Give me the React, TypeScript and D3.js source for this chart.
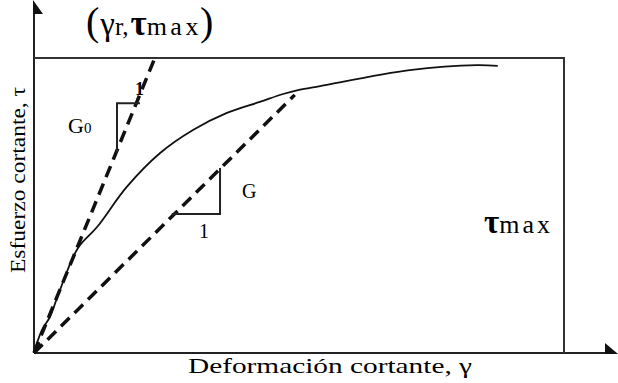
import React from 'react';
import * as d3 from 'd3';

// stress-strain curve (strain in arbitrary units, stress as tau/tau_max)
const strain = [0, 0.15, 0.3, 0.49, 0.83, 1.19, 1.75, 2.38, 3.0, 3.64, 4.26, 4.7, 5.0, 5.4, 7.09, 8.36, 8.75];
const stress = [0, 0.078, 0.122, 0.214, 0.356, 0.427, 0.563, 0.678, 0.756, 0.814, 0.851, 0.878, 0.892, 0.905, 0.959, 0.976, 0.973];

// initial tangent modulus G0 and secant modulus G
const g0Line = [[0, 0], [2.28, 1.0]];
const gLine = [[0, 0], [4.92, 0.875]];
const g0Tri = [[1.566, 0.678], [1.566, 0.847], [2.0, 0.847]];
const gTri = [[2.6, 0.471], [3.51, 0.471], [3.51, 0.627]];

const W = 618;
const H = 383;
const x0 = 34;
const y0 = 353;

const font = '"Liberation Serif", "Times New Roman", Times, serif';
const serif = { fontFamily: font };

const App = () => {
  const x = d3.scaleLinear().domain([0, 10]).range([x0, 564]);
  const y = d3.scaleLinear().domain([0, 1]).range([y0, 58]);

  const line = d3
    .line<number[]>()
    .x((d) => x(d[0]))
    .y((d) => y(d[1]));
  const curve = d3
    .line<number>()
    .x((d, i) => x(strain[i]))
    .y((d) => y(d))
    .curve(d3.curveCatmullRom.alpha(0.5));

  // little arrowhead at origin along the G0 line
  const dx = x(g0Line[1][0]) - x0;
  const dy = y(g0Line[1][1]) - y0;
  const len = Math.hypot(dx, dy);
  const ux = dx / len;
  const uy = dy / len;
  const tip = [x0 + 1, y0 - 1];
  const back = [tip[0] + ux * 10, tip[1] + uy * 10];
  const arrow = [
    tip,
    [back[0] - uy * 3, back[1] + ux * 3],
    [back[0] + uy * 3, back[1] - ux * 3],
  ];

  return (
    <svg
      width={W}
      height={H}
      style={{ position: 'absolute', left: 0, top: 0, background: '#fff' }}
    >
      {/* axes */}
      <line x1={x0} y1={y0} x2={x0} y2={12} stroke="#222" strokeWidth={2} />
      <polygon points={`${x0 - 1},0 ${x0 + 9},14 ${x0 - 1},14`} fill="#111" />
      <line x1={x0} y1={y0} x2={608} y2={y0} stroke="#222" strokeWidth={2} />
      <polygon points={`605,343 618,${y0 + 1} 605,${y0 + 1}`} fill="#111" />

      {/* tau max box */}
      <line x1={x0} y1={y(1)} x2={x(10)} y2={y(1)} stroke="#333" strokeWidth={2} />
      <line x1={x(10)} y1={y(1) - 1} x2={x(10)} y2={y0} stroke="#333" strokeWidth={2} />

      {/* dashed moduli */}
      <path d={line(g0Line) ?? ''} fill="none" stroke="#111" strokeWidth={3.5} strokeDasharray="12 7" />
      <path d={line(gLine) ?? ''} fill="none" stroke="#111" strokeWidth={3.5} strokeDasharray="12 7" />
      <polygon points={arrow.map((p) => p.join(',')).join(' ')} fill="#111" />

      {/* slope triangles */}
      <path d={line(g0Tri) ?? ''} fill="none" stroke="#222" strokeWidth={2} />
      <path d={line(gTri) ?? ''} fill="none" stroke="#222" strokeWidth={2} />

      {/* curve */}
      <path d={curve(stress) ?? ''} fill="none" stroke="#111" strokeWidth={1.8} />

      {/* labels */}
      <text x={68} y={133} fontSize={22} style={serif}>
        G<tspan fontSize={15}>0</tspan>
      </text>
      <text x={135} y={95} fontSize={18} fontWeight="bold" style={serif}>1</text>
      <text x={242} y={198} fontSize={20} style={serif}>G</text>
      <text x={199} y={238} fontSize={20} style={serif}>1</text>

      <text x={86} y={35} style={serif}>
        <tspan fontSize={40}>(</tspan>
        <tspan fontSize={33} dx={1}>γ</tspan>
        <tspan fontSize={25}>r,</tspan>
        <tspan fontSize={35} fontWeight="bold" dx={2}>τ</tspan>
        <tspan fontSize={26} letterSpacing={3.5}>max</tspan>
        <tspan fontSize={40} dx={-2}>)</tspan>
      </text>

      <text x={484} y={233} style={serif}>
        <tspan fontSize={33} fontWeight="bold">τ</tspan>
        <tspan fontSize={26} letterSpacing={3}>max</tspan>
      </text>

      <text x={188} y={373} fontSize={22} textLength={284} lengthAdjust="spacingAndGlyphs" style={serif}>
        Deformación cortante, γ
      </text>
      <text
        transform="translate(25,273) rotate(-90)"
        fontSize={22}
        textLength={186}
        lengthAdjust="spacingAndGlyphs"
        style={serif}
      >
        Esfuerzo cortante, τ
      </text>
    </svg>
  );
};

export default App;
